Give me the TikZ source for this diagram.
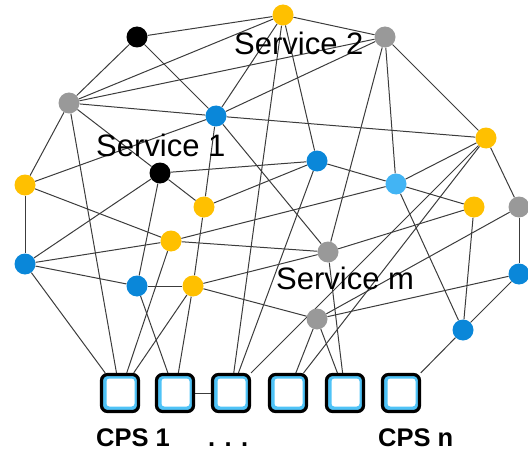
\documentclass[tikz,border=0pt]{standalone}
\usepackage{fontspec}
\setmainfont{Liberation Sans}
\usetikzlibrary{backgrounds}
\definecolor{cy}{HTML}{FFC000}
\definecolor{cb}{HTML}{0A87D9}
\definecolor{clb}{HTML}{42B4F4}
\definecolor{cg}{HTML}{999999}
\definecolor{cbox}{HTML}{4FC3F7}
\definecolor{cedge}{HTML}{3C3C3C}
\begin{document}
\begin{tikzpicture}[x=1pt,y=-1pt,
  dot/.style={circle,inner sep=0pt,minimum size=21pt},
  ydot/.style={dot,fill=cy},
  bdot/.style={dot,fill=cb},
  lbdot/.style={dot,fill=clb},
  gdot/.style={dot,fill=cg},
  kdot/.style={dot,fill=black},
  edge/.style={draw=cedge,line width=1pt},
  cps/.style={rectangle,minimum size=37pt,inner sep=0pt,rounded corners=6pt,
    draw=black,line width=3.2pt,fill=cbox,
    path picture={\fill[white,rounded corners=3pt]
      ([xshift=5pt,yshift=5pt]path picture bounding box.south west) rectangle
      ([xshift=-4pt,yshift=-4pt]path picture bounding box.north east);}},
  svc/.style={font=\fontsize{31}{36}\selectfont,anchor=base west,inner sep=0pt},
  cpslabel/.style={font=\bfseries\fontsize{25.5}{30}\selectfont,anchor=base west,inner sep=0pt}
]
\useasboundingbox (0,0) rectangle (528,452);
% nodes
\node[ydot] (y1) at (283,15) {};
\node[kdot] (b1) at (137,37) {};
\node[gdot] (g1) at (385,37) {};
\node[gdot] (g2) at (69,103) {};
\node[bdot] (bl1) at (216,116) {};
\node[ydot] (y2) at (486,138) {};
\node[kdot] (bk2) at (160,173) {};
\node[bdot] (bl2) at (317,161) {};
\node[lbdot] (lb) at (396,184) {};
\node[ydot] (y3) at (25,185) {};
\node[ydot] (y4) at (204,207) {};
\node[ydot] (y5) at (474,207) {};
\node[gdot] (g3) at (519,207) {};
\node[ydot] (y6) at (171,241) {};
\node[gdot] (g4) at (328,252) {};
\node[bdot] (bl3) at (25,264) {};
\node[bdot] (bl4) at (137,286) {};
\node[ydot] (y7) at (193,286) {};
\node[bdot] (bl5) at (519,274) {};
\node[gdot] (g5) at (317,319) {};
\node[bdot] (bl6) at (463,330) {};
% CPS boxes
\node[cps] (c1) at (120,393) {};
\node[cps] (c2) at (175,393) {};
\node[cps] (c3) at (231,393) {};
\node[cps] (c4) at (288,393) {};
\node[cps] (c5) at (345,393) {};
\node[cps] (c6) at (401,393) {};
% edges
\begin{scope}[on background layer]
\foreach \a/\b in {b1/y1,b1/g2,b1/bl1,
  y1/g2,y1/bl1,y1/c3,y1/bl2,y1/g1,
  g1/g2,g1/bl1,g1/y2,g1/lb,g1/g4,
  g2/bl1,g2/y3,g2/c1,g2/bk2,
  bl1/y2,bl1/g4,bl1/y4,bl1/y3,
  y2/lb,y2/g3,y2/c3,y2/c4,
  bl2/bk2,bl2/y4,bl2/lb,bl2/c3,
  lb/y5,lb/bl6,lb/y6,
  y3/y6,y3/bl3,
  bl3/bk2,bl3/y6,bl3/bl4,bl3/c1,
  bk2/y4,bk2/bl4,
  y4/y7,
  y6/g4,y6/c1,
  bl4/y7,bl4/c2,
  y7/c1,y7/c2,y7/g4,y7/g5,
  g4/y5,g4/c5,
  g5/g3,g5/bl5,g5/c4,g5/c5,
  y5/bl6,g3/bl5,bl5/bl6,bl6/c6,c2/c3}
  \draw[edge] (\a) -- (\b);
\end{scope}
% labels
\node[svc] (s2) at (234,55) {Service 2};
\node[svc] (s1) at (96,157) {Service 1};
\node[svc] (sm) at (276,289) {Service m};
\node[cpslabel] (l1) at (96,446) {CPS 1};
\node[cpslabel] (ld) at (208,446) {. . .};
\node[cpslabel] (ln) at (378,446) {CPS n};
\end{tikzpicture}
\end{document}
